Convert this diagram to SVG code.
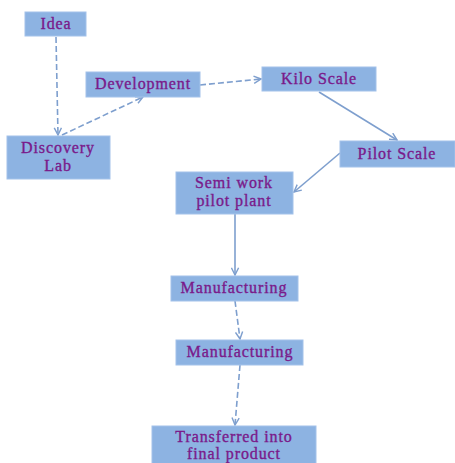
<svg xmlns="http://www.w3.org/2000/svg" width="455" height="463" viewBox="0 0 455 463">
<style>
.box{fill:#8DB3E2;stroke:#A3C2EA;stroke-width:1}
.t{font-family:"Liberation Serif","Times New Roman",serif;font-size:16px;fill:#7A1A8A;stroke:#7A1A8A;stroke-width:0.35;text-anchor:middle;letter-spacing:0.9px}
.c{fill:none;stroke:#7E9FCE;stroke-width:1.6}
.d{stroke-dasharray:6 3}
</style>
<defs>
<marker id="a" viewBox="0 0 10 10" refX="9" refY="5" markerWidth="9" markerHeight="9" markerUnits="userSpaceOnUse" orient="auto">
<path d="M1,1 L9,5 L1,9" fill="none" stroke="#7E9FCE" stroke-width="1.6"/>
</marker>
</defs>
<rect width="455" height="463" fill="#fff"/>
<g id="connectors">
<path class="c d" d="M56,37 L58,135" marker-end="url(#a)"/>
<path class="c d" d="M62,135 L143,97" marker-end="url(#a)"/>
<path class="c d" d="M200,85 L261,79" marker-end="url(#a)"/>
<path class="c" d="M319,92 L397,140" marker-end="url(#a)"/>
<path class="c" d="M340,153 L294,192" marker-end="url(#a)"/>
<path class="c" d="M235,214 L235,275" marker-end="url(#a)"/>
<path class="c d" d="M235,301 L240,339" marker-end="url(#a)"/>
<path class="c d" d="M240,365 L235,425" marker-end="url(#a)"/>
</g>
<g id="idea"><rect class="box" x="25" y="12" width="61" height="24"/><text class="t" x="56" y="29">Idea</text></g>
<g id="development"><rect class="box" x="86" y="72" width="114" height="25"/><text class="t" x="143" y="89">Development</text></g>
<g id="discovery"><rect class="box" x="7" y="136" width="103" height="43"/><text class="t" x="58" y="153">Discovery</text><text class="t" x="58" y="171">Lab</text></g>
<g id="kilo"><rect class="box" x="262" y="67" width="114" height="24"/><text class="t" x="319" y="84">Kilo Scale</text></g>
<g id="pilot"><rect class="box" x="340" y="141" width="115" height="26"/><text class="t" x="397" y="159">Pilot Scale</text></g>
<g id="semi"><rect class="box" x="176" y="172" width="117" height="42"/><text class="t" x="234" y="188">Semi work</text><text class="t" x="234" y="206">pilot plant</text></g>
<g id="manuf1"><rect class="box" x="171" y="276" width="127" height="25"/><text class="t" x="234" y="293">Manufacturing</text></g>
<g id="manuf2"><rect class="box" x="176" y="340" width="127" height="25"/><text class="t" x="240" y="357">Manufacturing</text></g>
<g id="transferred"><rect class="box" x="152" y="426" width="164" height="40"/><text class="t" x="234" y="442">Transferred into</text><text class="t" x="234" y="459">final product</text></g>
</svg>
